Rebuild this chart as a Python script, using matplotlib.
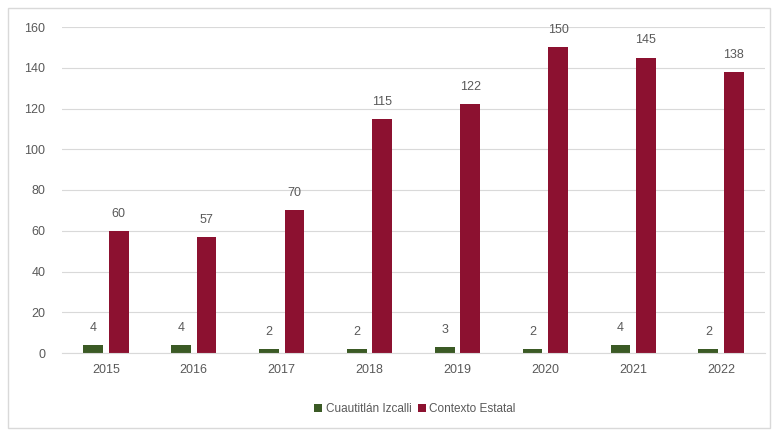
import numpy as np
import matplotlib
matplotlib.use("Agg")
import matplotlib.pyplot as plt
from matplotlib.patches import Rectangle

years = ["2015", "2016", "2017", "2018", "2019", "2020", "2021", "2022"]
izcalli = [4, 4, 2, 2, 3, 2, 4, 2]
estatal = [60, 57, 70, 115, 122, 150, 145, 138]

GREEN = "#3b5a25"
RED = "#8c1130"
GREY = "#595959"

plt.rcParams["font.family"] = ["Liberation Sans", "DejaVu Sans"]

fig = plt.figure(figsize=(7.77, 4.38), dpi=100)
fig.patches.append(Rectangle((8 / 777, 1 - 428 / 438), 762 / 777, 420 / 438,
                             transform=fig.transFigure, fill=False,
                             edgecolor="#d9d9d9", linewidth=1))
ax = fig.add_axes([62 / 777, 1 - 353 / 438, 703 / 777, 326 / 438])

x = np.arange(len(years))
w = 0.225
off = 0.145
b1 = ax.bar(x - off, izcalli, w, color=GREEN, label="Cuautitlán Izcalli")
b2 = ax.bar(x + off, estatal, w, color=RED, label="Contexto Estatal")

for bars in (b1, b2):
    for r in bars:
        ax.annotate(f"{int(r.get_height())}", (r.get_x() + r.get_width() / 2, r.get_height()),
                    xytext=(0, 8), textcoords="offset points", ha="center", va="bottom",
                    fontsize=9, color=GREY)

ax.set_xlim(-0.5, len(years) - 0.5)
ax.set_ylim(0, 160)
ax.set_yticks(range(0, 161, 20))
ax.set_xticks(x, years)
ax.yaxis.grid(True, color="#d9d9d9", linewidth=0.8)
ax.set_axisbelow(True)
for s in ("top", "right", "left"):
    ax.spines[s].set_visible(False)
ax.spines["bottom"].set_color("#d9d9d9")
ax.tick_params(axis="both", length=0, labelsize=9, colors=GREY)
ax.tick_params(axis="x", pad=8)
ax.tick_params(axis="y", pad=12)

fig.legend(handles=[b1, b2], loc="center", bbox_to_anchor=(415 / 777, 1 - 409 / 438),
           ncol=2, frameon=False, fontsize=8.5, labelcolor=GREY,
           handlelength=0.7, handleheight=0.7, handletextpad=0.3, columnspacing=0.5)

fig.savefig("out.png", dpi=100)
